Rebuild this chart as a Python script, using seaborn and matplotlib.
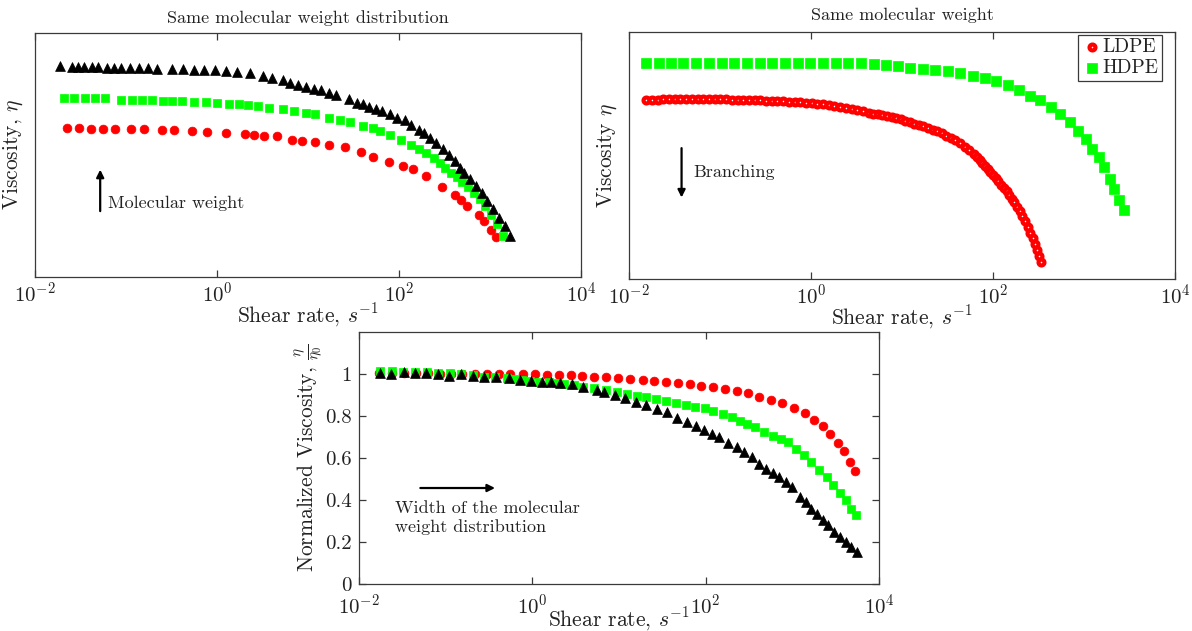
import numpy as np
import matplotlib
matplotlib.use("Agg")
import matplotlib.pyplot as plt
import matplotlib.ticker as mticker
import seaborn as sns

# ---------------- data ----------------
# Top-left: same molecular weight distribution (arbitrary viscosity units)
tl_black_rate = [0.0189, 0.0258, 0.0299, 0.0345, 0.0419, 0.0498, 0.0616, 0.0734, 0.0891, 0.110,
                 0.140, 0.175, 0.217, 0.319, 0.427, 0.560, 0.727, 0.944, 1.24, 1.65,
                 2.32, 3.19, 4.03, 5.28, 6.41, 7.78, 9.44, 11.5, 13.9, 16.9,
                 20.5, 27.9, 34.8, 40.3, 46.6, 56.5, 65.3, 79.3, 96.2, 115,
                 135, 164, 189, 219, 253, 307, 355, 410, 474, 523,
                 604, 699, 809, 935, 1080, 1250, 1450, 1670]
tl_black_visc = [86.4, 86.1, 86.1, 85.9, 85.9, 85.9, 85.8, 85.8, 85.7, 85.7,
                 85.5, 85.5, 85.4, 85.3, 85.1, 85.0, 84.9, 84.7, 84.4, 84.1,
                 83.6, 82.5, 81.6, 80.6, 79.5, 78.7, 77.9, 77.2, 76.5, 75.4,
                 74.6, 73.1, 71.4, 70.7, 69.7, 68.9, 67.9, 66.6, 65.2, 64.3,
                 62.5, 60.4, 59.1, 57.0, 55.0, 52.5, 50.2, 47.5, 44.7, 42.7,
                 40.0, 37.2, 34.5, 31.1, 27.7, 24.3, 20.9, 16.8]
tl_green_rate = [0.0208, 0.0271, 0.0352, 0.0461, 0.0588, 0.0891, 0.116, 0.150, 0.193, 0.258,
                 0.319, 0.415, 0.554, 0.762, 1.00, 1.36, 1.73, 2.21, 2.82, 3.77,
                 5.28, 7.06, 9.44, 12.0, 16.9, 22.5, 28.7, 40.3, 51.3, 62.2,
                 79.3, 106, 135, 164, 199, 241, 279, 322, 372, 431,
                 498, 577, 667, 771, 891, 1030, 1190, 1380]
tl_green_visc = [73.3, 73.3, 73.3, 73.3, 73.3, 72.7, 72.7, 72.7, 72.4, 72.0,
                 72.0, 72.0, 71.8, 71.6, 71.4, 71.1, 70.8, 70.3, 70.0, 69.4,
                 68.9, 68.2, 67.3, 66.6, 65.2, 64.3, 63.4, 61.8, 61.1, 59.8,
                 58.0, 56.3, 54.0, 52.3, 50.9, 48.8, 46.8, 44.7, 42.7, 41.1,
                 38.9, 37.0, 34.5, 31.8, 29.1, 25.6, 21.6, 16.8]
tl_red_rate = [0.0223, 0.0307, 0.0410, 0.0560, 0.0762, 0.113, 0.157, 0.246, 0.335, 0.533,
               0.785, 1.27, 2.01, 2.58, 3.32, 4.57, 6.73, 8.57, 11.8, 17.2,
               25.8, 38.7, 52.2, 77.8, 112, 144, 199, 298, 410, 484,
               560, 748, 849, 1030, 1170]
tl_red_visc = [61.1, 61.1, 60.8, 60.8, 60.8, 60.7, 60.7, 60.2, 60.2, 60.0,
               59.6, 58.9, 58.7, 58.4, 57.8, 57.7, 56.1, 55.9, 55.4, 54.3,
               53.1, 51.2, 49.1, 47.2, 45.4, 44.3, 41.6, 36.8, 33.8, 31.4,
               29.1, 25.6, 22.9, 19.2, 16.5]

# Top-right: same molecular weight (arbitrary viscosity units)
hdpe_rate = [0.0154, 0.0212, 0.0288, 0.0396, 0.0550, 0.0755, 0.104, 0.144, 0.198, 0.272,
             0.377, 0.518, 0.711, 0.986, 1.36, 1.86, 2.58, 3.55, 4.88, 6.64,
             9.03, 12.4, 16.9, 23.2, 31.9, 43.4, 59.6, 81.1, 108, 145,
             193, 258, 328, 430, 541, 695, 859, 1040, 1240, 1460,
             1680, 1910, 2140, 2430, 2720]
hdpe_visc = [87.4, 87.4, 87.4, 87.4, 87.4, 87.4, 87.4, 87.4, 87.4, 87.4,
             87.4, 87.4, 87.4, 87.4, 87.4, 87.4, 87.4, 87.4, 87.2, 86.8,
             86.1, 85.5, 85.1, 84.7, 84.1, 83.4, 82.4, 81.4, 80.0, 78.4,
             76.6, 74.3, 72.3, 69.6, 66.9, 63.5, 60.1, 56.8, 52.7, 49.3,
             45.3, 40.5, 36.5, 32.0, 28.0]
ldpe_rate = [0.0154, 0.0178, 0.0206, 0.0238, 0.0275, 0.0318, 0.0366, 0.0424, 0.0490, 0.0566,
             0.0654, 0.0755, 0.0873, 0.101, 0.116, 0.135, 0.156, 0.180, 0.208, 0.240,
             0.277, 0.320, 0.370, 0.428, 0.494, 0.570, 0.659, 0.761, 0.879, 1.02,
             1.17, 1.36, 1.57, 1.81, 2.09, 2.42, 2.79, 3.23, 3.72, 4.31,
             4.83, 5.42, 6.09, 6.84, 7.67, 8.61, 9.67, 10.8, 12.2, 13.7,
             15.3, 17.2, 19.3, 21.7, 24.4, 27.3, 30.7, 34.4, 38.6, 43.4,
             48.7, 54.7, 61.4, 66.9, 71.6, 76.6, 81.9, 87.7, 93.8, 100,
             107, 115, 123, 131, 141, 150, 161, 172, 184, 197,
             210, 225, 241, 258, 273, 289, 303, 318, 334]
ldpe_visc = [72.3, 72.4, 72.6, 72.7, 72.7, 72.8, 72.8, 72.8, 72.8, 72.8,
             72.8, 72.8, 72.7, 72.7, 72.7, 72.6, 72.6, 72.4, 72.4, 72.3,
             72.3, 72.2, 72.0, 72.0, 71.9, 71.8, 71.6, 71.5, 71.4, 71.2,
             70.9, 70.7, 70.4, 70.0, 69.7, 69.3, 68.9, 68.5, 68.0, 67.4,
             67.0, 66.8, 66.4, 65.9, 65.5, 65.1, 64.6, 64.1, 63.5, 62.8,
             62.3, 61.8, 61.2, 60.5, 59.9, 59.1, 58.1, 57.2, 56.1, 55.0,
             53.6, 52.3, 50.7, 49.3, 48.2, 47.0, 45.8, 44.6, 43.4, 42.2,
             40.9, 39.6, 38.2, 36.9, 35.5, 34.1, 32.6, 31.1, 29.3, 27.4,
             25.5, 23.4, 21.2, 18.8, 16.6, 14.2, 11.8, 9.3, 6.8]

# Bottom: normalized viscosity
b_red_rate = [0.0171, 0.0237, 0.0329, 0.0451, 0.0625, 0.0849, 0.115, 0.156, 0.219, 0.303,
              0.411, 0.558, 0.773, 1.07, 1.47, 2.01, 2.79, 3.78, 5.14, 7.11,
              9.86, 13.5, 18.7, 25.4, 35.2, 48.3, 65.5, 88.9, 121, 167,
              227, 308, 418, 567, 770, 1040, 1390, 1770, 2240, 2750,
              3370, 3930, 4570, 5220]
b_red_norm = [1.003, 1.003, 1.003, 1.003, 1.003, 1.002, 1.002, 1.002, 1.002, 1.001,
              1.001, 1.001, 1.000, 1.000, 0.997, 0.995, 0.994, 0.991, 0.987, 0.984,
              0.979, 0.976, 0.971, 0.968, 0.963, 0.956, 0.953, 0.945, 0.937, 0.929,
              0.921, 0.908, 0.892, 0.878, 0.861, 0.837, 0.813, 0.782, 0.750, 0.712,
              0.671, 0.631, 0.582, 0.536]
b_green_rate = [0.0175, 0.0237, 0.0323, 0.0447, 0.0607, 0.0806, 0.112, 0.152, 0.206, 0.279,
                0.371, 0.504, 0.618, 0.757, 0.929, 1.20, 1.55, 1.89, 2.32, 2.99,
                3.86, 5.14, 7.11, 9.46, 12.4, 16.1, 20.7, 26.7, 34.5, 45.4,
                59.2, 75.5, 98.4, 123, 159, 201, 251, 302, 370, 472,
                597, 731, 897, 1100, 1350, 1650, 2020, 2480, 2950, 3550,
                4130, 4810, 5430]
b_green_norm = [1.013, 1.013, 1.011, 1.011, 1.008, 1.005, 1.003, 1.000, 0.995, 0.987,
                0.984, 0.981, 0.976, 0.972, 0.968, 0.964, 0.960, 0.956, 0.953, 0.948,
                0.940, 0.932, 0.924, 0.916, 0.905, 0.897, 0.889, 0.881, 0.870, 0.861,
                0.850, 0.845, 0.837, 0.823, 0.810, 0.794, 0.778, 0.763, 0.747, 0.726,
                0.707, 0.691, 0.676, 0.644, 0.612, 0.581, 0.544, 0.509, 0.470, 0.434,
                0.399, 0.359, 0.328]
b_black_rate = [0.0175, 0.0233, 0.0329, 0.0447, 0.0594, 0.0806, 0.109, 0.149, 0.206, 0.274,
                0.379, 0.531, 0.720, 0.977, 1.29, 1.63, 2.10, 2.85, 3.86, 5.52,
                6.76, 8.90, 11.8, 15.7, 20.7, 27.3, 35.6, 46.8, 61.6, 77.8,
                95.4, 117, 143, 181, 227, 278, 341, 418, 502, 597,
                695, 835, 993, 1220, 1420, 1650, 1920, 2240, 2610, 3040,
                3550, 4130, 4810, 5610]
b_black_norm = [1.003, 1.000, 1.008, 1.003, 1.003, 1.000, 0.992, 1.000, 0.989, 0.987,
                0.984, 0.979, 0.972, 0.968, 0.964, 0.960, 0.956, 0.953, 0.937, 0.924,
                0.913, 0.902, 0.886, 0.866, 0.850, 0.834, 0.818, 0.791, 0.771, 0.750,
                0.731, 0.715, 0.699, 0.671, 0.652, 0.628, 0.604, 0.573, 0.549, 0.528,
                0.509, 0.486, 0.462, 0.415, 0.391, 0.359, 0.335, 0.304, 0.280, 0.248,
                0.225, 0.201, 0.177, 0.153]

x_ticks = [1e-2, 1e0, 1e2, 1e4]
norm_ticks = [0, 0.2, 0.4, 0.6, 0.8, 1.0]
norm_tick_labels = ["0", "0.2", "0.4", "0.6", "0.8", "1"]

# ---------------- style ----------------
sns.set_style("ticks")
plt.rcParams.update({
    "font.family": ["cmr10", "DejaVu Serif"],
    "mathtext.fontset": "cm",
    "axes.formatter.use_mathtext": True,
    "axes.unicode_minus": False,
    "axes.edgecolor": "#3a3a3a",
    "axes.linewidth": 0.9,
    "xtick.color": "#3a3a3a",
    "ytick.color": "#3a3a3a",
    "xtick.labelcolor": "#222222",
    "ytick.labelcolor": "#222222",
    "text.color": "#222222",
    "axes.labelcolor": "#222222",
})

RED = "#ff0000"
GREEN = "#00ff00"
BLACK = "#000000"
TICK_FS = 15
LABEL_FS = 15.5
TITLE_FS = 13
NOTE_FS = 13

fig = plt.figure(figsize=(11.92, 6.31), dpi=100)
ax_tl = fig.add_axes([0.0294, 0.561, 0.458, 0.3867])
ax_tr = fig.add_axes([0.5277, 0.5578, 0.458, 0.3914])
ax_b = fig.add_axes([0.3012, 0.0745, 0.4362, 0.3994])


def style_axis(ax, xlabelpad=-1):
    ax.set_xscale("log")
    ax.set_xlim(1e-2, 1e4)
    ax.xaxis.set_major_locator(mticker.FixedLocator(x_ticks))
    ax.xaxis.set_major_formatter(mticker.LogFormatterMathtext())
    ax.xaxis.set_minor_locator(mticker.NullLocator())
    ax.tick_params(axis="both", which="major", direction="in", top=True, right=True,
                   length=5, width=0.9, labelsize=TICK_FS, pad=3)
    for s in ax.spines.values():
        s.set_visible(True)
    ax.set_xlabel(r"Shear rate, $s^{-1}$", fontsize=LABEL_FS, labelpad=xlabelpad)


ARROW = dict(arrowstyle="-|>", color="k", lw=1.6, mutation_scale=11, shrinkA=0, shrinkB=0)

# ---- top-left ----
sns.scatterplot(x=tl_red_rate, y=tl_red_visc, ax=ax_tl, marker="o", s=40,
                color=RED, edgecolor=RED, linewidth=0.5, zorder=3)
sns.scatterplot(x=tl_green_rate, y=tl_green_visc, ax=ax_tl, marker="s", s=38,
                color=GREEN, edgecolor=GREEN, linewidth=0.5, zorder=4)
sns.scatterplot(x=tl_black_rate, y=tl_black_visc, ax=ax_tl, marker="^", s=50,
                color=BLACK, edgecolor=BLACK, linewidth=0.5, zorder=5)
style_axis(ax_tl, -3)
ax_tl.set_ylim(0, 100)
ax_tl.set_yticks([])
ax_tl.set_ylabel(r"Viscosity, $\eta$", fontsize=LABEL_FS, labelpad=7)
ax_tl.set_title("Same molecular weight distribution", fontsize=TITLE_FS, pad=7)
ax_tl.annotate("", xy=(0.052, 44.0), xytext=(0.052, 27.0), arrowprops=ARROW)
ax_tl.text(0.0634, 30.0, "Molecular weight", fontsize=NOTE_FS, va="center", ha="left")

# ---- top-right ----
sns.scatterplot(x=hdpe_rate, y=hdpe_visc, ax=ax_tr, marker="s", s=62,
                color=GREEN, edgecolor=GREEN, linewidth=0.5, zorder=3, label="HDPE")
sns.scatterplot(x=ldpe_rate, y=ldpe_visc, ax=ax_tr, marker="o", s=18,
                facecolor="white", edgecolor=RED, linewidth=3.0, zorder=4, label="LDPE")
style_axis(ax_tr, -3)
ax_tr.set_ylim(0, 100)
ax_tr.set_yticks([])
ax_tr.set_ylabel(r"Viscosity $\eta$", fontsize=LABEL_FS, labelpad=7)
ax_tr.set_title("Same molecular weight", fontsize=TITLE_FS, pad=9)
ax_tr.annotate("", xy=(0.0378, 33.0), xytext=(0.0378, 53.0), arrowprops=ARROW)
ax_tr.text(0.0505, 43.3, "Branching", fontsize=NOTE_FS, va="center", ha="left")
handles, labels = ax_tr.get_legend_handles_labels()
order = [labels.index("LDPE"), labels.index("HDPE")]
leg = ax_tr.legend([handles[i] for i in order], [labels[i] for i in order],
                   loc="upper right", bbox_to_anchor=(0.977, 0.99),
                   fontsize=14, frameon=True, fancybox=False,
                   edgecolor="#3a3a3a", framealpha=1, handletextpad=0.05,
                   borderpad=0.2, handlelength=1.0, borderaxespad=0.0, labelspacing=0.15)
leg.get_frame().set_linewidth(0.9)

# ---- bottom ----
sns.scatterplot(x=b_red_rate, y=b_red_norm, ax=ax_b, marker="o", s=40,
                color=RED, edgecolor=RED, linewidth=0.5, zorder=3)
sns.scatterplot(x=b_green_rate, y=b_green_norm, ax=ax_b, marker="s", s=38,
                color=GREEN, edgecolor=GREEN, linewidth=0.5, zorder=4)
sns.scatterplot(x=b_black_rate, y=b_black_norm, ax=ax_b, marker="^", s=50,
                color=BLACK, edgecolor=BLACK, linewidth=0.5, zorder=5)
style_axis(ax_b, -9)
ax_b.tick_params(axis="x", pad=7)
ax_b.tick_params(axis="y", pad=5)
ax_b.set_ylim(0, 1.2)
ax_b.set_yticks(norm_ticks)
ax_b.set_yticklabels(norm_tick_labels)
ax_b.set_ylabel(r"Normalized Viscosity, $\frac{\eta}{\eta_0}$", fontsize=LABEL_FS, labelpad=0)
ax_b.annotate("", xy=(0.371, 0.457), xytext=(0.051, 0.457), arrowprops=ARROW)
ax_b.text(0.0258, 0.315, "Width of the molecular\nweight distribution", fontsize=NOTE_FS,
          va="center", ha="left", linespacing=1.25)

fig.savefig("out.png", dpi=100)
